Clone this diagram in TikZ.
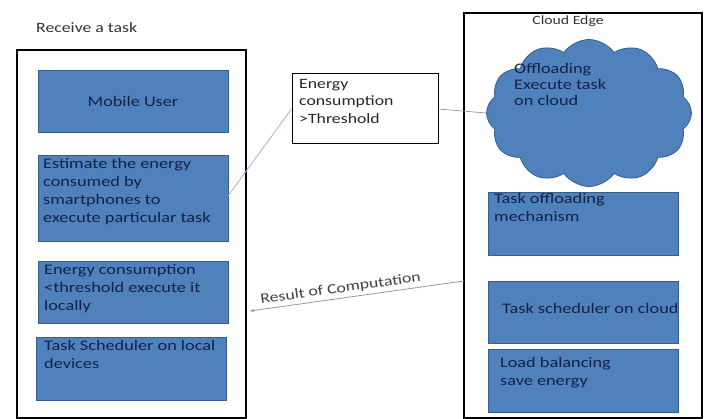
\documentclass[tikz,border=0pt]{standalone}
\usepackage{fontspec}
\setmainfont{Carlito}[FakeStretch=1.25]
\usetikzlibrary{shapes.symbols,arrows.meta}
\definecolor{boxfill}{RGB}{79,129,189}
\definecolor{boxline}{RGB}{56,93,138}
\definecolor{boxtext}{RGB}{18,34,72}
\definecolor{linkblue}{RGB}{160,180,220}
\definecolor{linkgrey}{RGB}{150,150,150}
\tikzset{
  outerbox/.style={draw=black, line width=1.3pt},
  bluebox/.style={draw=boxline, line width=0.8pt, fill=boxfill},
  boxlabel/.style={anchor=north west, inner sep=0pt, align=left, text=boxtext, font=\fontsize{14.6}{18}\selectfont},
  plainlabel/.style={inner sep=0pt, text=black!80, font=\fontsize{14.2}{17.5}\selectfont},
}
\begin{document}
\begin{tikzpicture}[x=1pt,y=-1pt]
\useasboundingbox (0,0) rectangle (706,419);
% left outer box
\draw[outerbox] (17,50) rectangle (246,418);
\node[plainlabel, anchor=west] (recv) at (36,28) {Receive a task};
% left blue boxes
\draw[bluebox] (38,70) rectangle (228,132);
\node[boxlabel, anchor=center] (mobile) at (133,101) {Mobile User};
\draw[bluebox] (38,155) rectangle (228,241);
\coordinate (estR) at (228,196);
\node[boxlabel] (est) at (43,158) {Estimate the energy\\consumed by\\smartphones to\\execute particular task};
\draw[bluebox] (38,261) rectangle (228,323);
\node[boxlabel] (local) at (44,264) {Energy consumption\\<threshold execute it\\locally};
\draw[bluebox] (36,337) rectangle (226,400);
\node[boxlabel] (sched) at (44,340) {Task Scheduler on local\\devices};
% threshold box
\node[draw=black, line width=1pt, minimum width=146, minimum height=70, inner sep=0pt] (thr) at (365,109) {};
\node[plainlabel, anchor=north west, align=left, text=black!85] (thrtext) at (299,79) {Energy\\consumption\\>Threshold};
% right outer box
\draw[outerbox] (464,13) rectangle (702,418);
\node[plainlabel, font=\fontsize{12.6}{15}\selectfont] (cedge) at (568,21) {Cloud Edge};
% cloud
\node[cloud, cloud puffs=12, cloud puff arc=110, aspect=1.4, draw=boxline, fill=boxfill, line width=0.8pt, minimum width=205, minimum height=147, inner sep=0pt] (cloud) at (589,113) {};
\node[boxlabel, font=\fontsize{14.6}{16}\selectfont] (cloudtext) at (514,63) {Offloading\\Execute task\\on cloud};
% right blue boxes
\draw[bluebox] (488,192) rectangle (678,255);
\node[boxlabel] (offl) at (494,193) {Task offloading\\mechanism};
\draw[bluebox] (488,281) rectangle (678,343);
\coordinate (schedL) at (464,281);
\node[boxlabel, anchor=west] (csched) at (502,308) {Task scheduler on cloud};
\draw[bluebox] (488,349) rectangle (678,412);
\node[boxlabel] (lb) at (500,357) {Load balancing\\save energy};
% connectors
\draw[linkblue, line width=0.8pt] (estR) -- (thr.west);
\draw[linkgrey, line width=0.7pt] (thr.east) -- (cloud.west);
\coordinate (resEnd) at (250,311);
\draw[linkgrey, line width=0.8pt, -{Stealth[length=4pt,width=3pt]}] (schedL) -- node[pos=0.57, above=3pt, sloped, plainlabel, text=black!75] (res) {Result of Computation} (resEnd);
\end{tikzpicture}
\end{document}
